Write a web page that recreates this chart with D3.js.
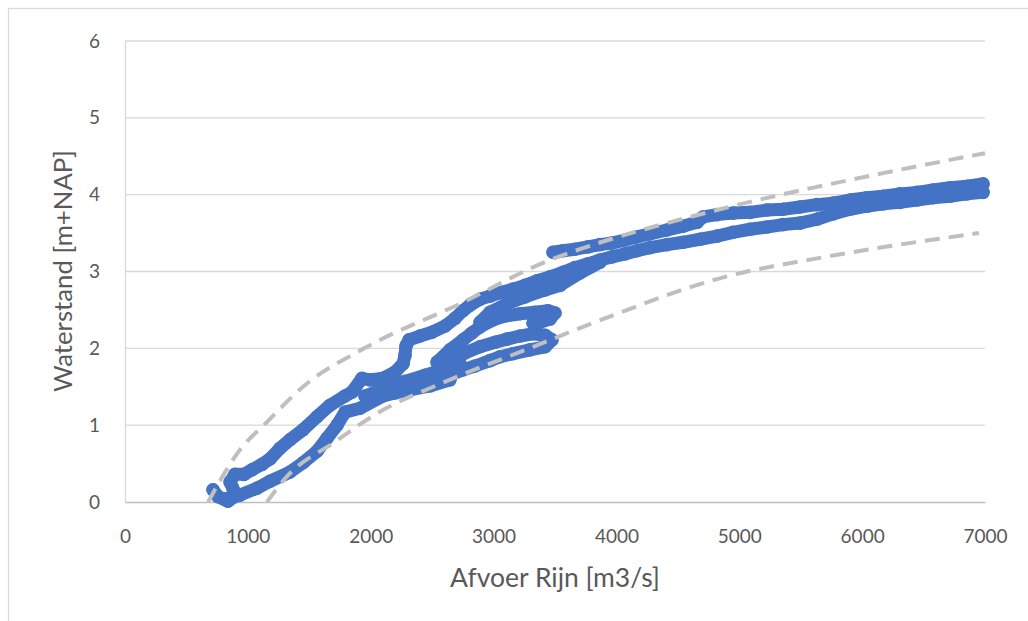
<!DOCTYPE html>
<html><head><meta charset="utf-8">
<script src="https://cdn.jsdelivr.net/npm/d3@7"></script>
<style>
html,body{margin:0;padding:0;background:#fff;}
svg text{font-family:Lato,"Open Sans",sans-serif;fill:#595959;}
</style></head>
<body><svg id="c" width="1028" height="621"></svg>
<script>
// ---- data ----
const xTicks = [0,1000,2000,3000,4000,5000,6000,7000];
const yTicks = [0,1,2,3,4,5,6];
const xTitle = "Afvoer Rijn [m3/s]";
const yTitle = "Waterstand [m+NAP]";

const riseLimb = [[716,0.16],[757,0.07],[838,0.01],[903,0.08],[880,0.17],[855,0.26],[895,0.36],[969,0.36],[1034,0.42],[1115,0.49],[1180,0.56],[1262,0.70],[1343,0.81],[1449,0.94],[1563,1.11],[1669,1.26],[1791,1.38],[1848,1.43],[1929,1.61],[1994,1.59],[2100,1.61],[2198,1.69],[2263,1.80],[2279,1.91],[2287,2.03],[2312,2.11],[2401,2.16],[2499,2.21],[2605,2.29],[2686,2.39],[2751,2.49],[2808,2.56],[2890,2.64],[2971,2.68],[3069,2.73],[3158,2.77],[3256,2.82],[3354,2.88],[3459,2.93],[3565,2.99],[3663,3.05],[3769,3.10],[3866,3.15],[3964,3.19],[4070,3.23],[4167,3.27],[4273,3.31],[4412,3.35],[4542,3.38],[4680,3.42],[4819,3.46],[4949,3.51],[5087,3.55],[5226,3.58],[5356,3.61],[5494,3.63],[5632,3.68],[5763,3.75],[5901,3.81],[6039,3.85],[6170,3.88],[6308,3.90],[6446,3.93],[6577,3.96],[6715,3.98],[6853,4.01],[6984,4.03]];
const topLimb = [[6984,4.14],[6853,4.11],[6715,4.09],[6577,4.06],[6446,4.03],[6308,4.01],[6170,3.98],[6039,3.96],[5901,3.93],[5763,3.89],[5632,3.87],[5494,3.84],[5356,3.81],[5226,3.80],[5087,3.77],[4949,3.76],[4819,3.74],[4705,3.71],[4656,3.64],[4542,3.59],[4412,3.54],[4273,3.49],[4167,3.45],[4070,3.41],[3964,3.37],[3866,3.35],[3769,3.32],[3663,3.29],[3565,3.27],[3484,3.25]];
const fingerLoop = [[2540,1.82],[2645,1.98],[2751,2.11],[2824,2.20],[2890,2.28],[2995,2.37],[3093,2.42],[3215,2.45],[3337,2.47],[3443,2.49],[3500,2.46],[3459,2.38],[3378,2.34],[3321,2.33]];
const fingerBranch = [[2890,2.34],[2971,2.47],[3109,2.58],[3256,2.67],[3419,2.76],[3541,2.82],[3703,2.98],[3866,3.12]];
const lowerLoop = [[2621,1.82],[2767,1.94],[2890,2.02],[3012,2.08],[3109,2.12],[3215,2.16],[3321,2.19],[3419,2.17],[3475,2.11],[3419,2.02],[3296,1.98],[3158,1.93],[3052,1.89],[2971,1.84],[2849,1.77],[2751,1.72],[2645,1.65],[2564,1.59]];
const midBand = [[1953,1.38],[2116,1.48],[2279,1.57],[2442,1.65],[2605,1.73],[2727,1.80]];
const fallLimb = [[2645,1.59],[2483,1.51],[2320,1.46],[2198,1.42],[2100,1.38],[1913,1.22],[1791,1.17],[1726,1.00],[1644,0.83],[1563,0.66],[1449,0.51],[1343,0.39],[1180,0.27],[1074,0.18],[936,0.09],[814,0.04]];
const seriesPieces = [riseLimb, topLimb, fingerLoop, fingerBranch, lowerLoop, midBand, fallLimb];

// envelope (dashed) curves
const upperEnvelope = [[676,0],[936,0.68],[1155,1.04],[1449,1.50],[1970,2.02],[2727,2.58],[3459,3.15],[3703,3.29],[4818,3.80],[6170,4.28],[7000,4.54]];
const lowerEnvelope = [[1155,0],[1317,0.33],[1696,0.77],[2102,1.20],[2510,1.50],[3322,2.02],[3810,2.33],[4884,2.93],[5700,3.19],[6950,3.50]];

// ---- drawing ----
const svg = d3.select("#c");
svg.append("rect").attr("x",8.5).attr("y",8.5).attr("width",1100).attr("height",700)
  .attr("fill","#fff").attr("stroke","#d9d9d9").attr("stroke-width",1.3);

const x = d3.scaleLinear().domain([0,7000]).range([125,985]);
const y = d3.scaleLinear().domain([0,6]).range([502,41]);

// gridlines
svg.append("g").selectAll("line").data(yTicks.filter(d=>d>0)).join("line")
  .attr("x1",x(0)).attr("x2",x(7000)).attr("y1",d=>y(d)).attr("y2",d=>y(d))
  .attr("stroke","#d9d9d9").attr("stroke-width",1.3);

// y axis
const gy = svg.append("g").attr("transform",`translate(${x(0)},0)`)
  .call(d3.axisLeft(y).tickValues(yTicks).tickSize(0).tickPadding(25).tickFormat(d3.format("d")));
gy.select(".domain").attr("stroke","#d9d9d9").attr("stroke-width",1.3);
gy.selectAll("text").attr("font-size",19).attr("fill","#595959").attr("font-family","Lato");

// x axis
const gx = svg.append("g").attr("transform",`translate(0,${y(0)})`)
  .call(d3.axisBottom(x).tickValues(xTicks).tickSize(0).tickPadding(28).tickFormat(d3.format("d")));
gx.select(".domain").attr("stroke","#bfbfbf").attr("stroke-width",1.5);
gx.selectAll("text").attr("font-size",19).attr("fill","#595959").attr("font-family","Lato");

// series
const line = d3.line().x(d=>x(d[0])).y(d=>y(d[1]));
const gs = svg.append("g");
seriesPieces.forEach(p=>{
  gs.append("path").attr("d",line(p)).attr("fill","none").attr("stroke","#4472c4")
    .attr("stroke-width",13).attr("stroke-linejoin","round").attr("stroke-linecap","round");
});
gs.selectAll("circle").data(seriesPieces.flat()).join("circle")
  .attr("cx",d=>x(d[0])).attr("cy",d=>y(d[1])).attr("r",6.8).attr("fill","#4472c4");

// envelopes
const curve = d3.line().x(d=>x(d[0])).y(d=>y(d[1])).curve(d3.curveMonotoneX);
[upperEnvelope, lowerEnvelope].forEach(e=>{
  svg.append("path").attr("d",curve(e)).attr("fill","none").attr("stroke","#bfbfbf")
    .attr("stroke-width",4).attr("stroke-dasharray","15,9");
});

// titles
function fit(t, target, base){
  t.attr("font-size",base);
  const l = t.node().getComputedTextLength();
  t.attr("font-size", base*target/l);
}
const xt = svg.append("text").attr("x",555).attr("y",587).attr("text-anchor","middle").text(xTitle);
fit(xt,210,22);
const yt = svg.append("text").attr("transform","translate(72,271) rotate(-90)").attr("text-anchor","middle").text(yTitle);
fit(yt,242,22);
</script></body></html>
